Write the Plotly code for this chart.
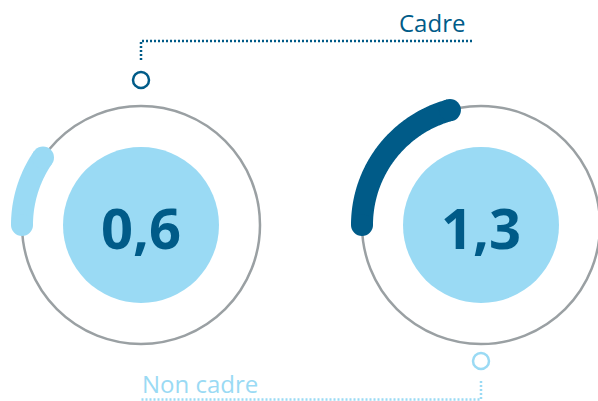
import numpy as np
import plotly.graph_objects as go

# ---- data ----
categories = ["Non cadre", "Cadre"]
values = [0.6, 1.3]
gauge_max = 6.25  # full turn of the gauge

# ---- style ----
DARK = "#005B88"
LIGHT = "#9ADAF4"
GRAY = "#9AA0A3"
arc_colors = [LIGHT, DARK]

W, H = 598, 401
centers = [(141, 225), (481, 225)]
R_RING = 119
R_DISK = 78

fig = go.Figure()
shapes = []
annotations = []

for i, (cat, val) in enumerate(zip(categories, values)):
    cx, cy = centers[i]
    # outer ring
    shapes.append(dict(type="circle", xref="x", yref="y",
                       x0=cx - R_RING, x1=cx + R_RING, y0=cy - R_RING, y1=cy + R_RING,
                       line=dict(color=GRAY, width=2.5), fillcolor="rgba(0,0,0,0)", layer="below"))
    # inner disk
    shapes.append(dict(type="circle", xref="x", yref="y",
                       x0=cx - R_DISK, x1=cx + R_DISK, y0=cy - R_DISK, y1=cy + R_DISK,
                       line=dict(width=0), fillcolor=LIGHT, layer="below"))
    # value arc, starting at 9 o'clock, going clockwise
    span = np.deg2rad(val / gauge_max * 360.0)
    t = np.linspace(np.pi, np.pi - span, 120)
    ax = cx + R_RING * np.cos(t)
    ay = cy - R_RING * np.sin(t)
    fig.add_trace(go.Scatter(x=ax, y=ay, mode="lines",
                             line=dict(color=arc_colors[i], width=22, simplify=False),
                             hoverinfo="skip", showlegend=False))
    fig.add_trace(go.Scatter(x=[ax[0], ax[-1]], y=[ay[0], ay[-1]], mode="markers",
                             marker=dict(color=arc_colors[i], size=22, line=dict(width=0)),
                             hoverinfo="skip", showlegend=False))
    # value text
    annotations.append(dict(x=cx, y=cy + 2, xref="x", yref="y", showarrow=False,
                            text=f"{val:.1f}".replace(".", ","),
                            font=dict(family="Open Sans", size=56, color=DARK, weight="bold")))

# ---- leader for "Cadre" (above, left gauge side) ----
fig.add_trace(go.Scatter(x=[141, 141, 473], y=[60, 41, 41], mode="lines",
                         line=dict(color=DARK, width=2.5, dash="2px,2px"),
                         hoverinfo="skip", showlegend=False))
fig.add_trace(go.Scatter(x=[141], y=[80], mode="markers",
                         marker=dict(symbol="circle-open", size=16, color=DARK, line=dict(width=2.5, color=DARK)),
                         hoverinfo="skip", showlegend=False))
annotations.append(dict(x=467, y=22, xref="x", yref="y", showarrow=False, xanchor="right",
                        text=categories[1], font=dict(family="Open Sans", size=24, color=DARK)))

# ---- leader for "Non cadre" (below, right gauge side) ----
fig.add_trace(go.Scatter(x=[481, 481, 140], y=[381, 399.5, 399.5], mode="lines",
                         line=dict(color=LIGHT, width=2.5, dash="2px,2px"),
                         hoverinfo="skip", showlegend=False))
fig.add_trace(go.Scatter(x=[481], y=[361], mode="markers",
                         marker=dict(symbol="circle-open", size=16, color=LIGHT, line=dict(width=2.5, color=LIGHT)),
                         hoverinfo="skip", showlegend=False))
annotations.append(dict(x=140, y=383, xref="x", yref="y", showarrow=False, xanchor="left",
                        text=categories[0], font=dict(family="Open Sans", size=24, color=LIGHT)))

fig.update_layout(
    width=W, height=H, margin=dict(l=0, r=0, t=0, b=0),
    paper_bgcolor="white", plot_bgcolor="white",
    xaxis=dict(range=[0, W], visible=False, fixedrange=True),
    yaxis=dict(range=[H, 0], visible=False, fixedrange=True),
    shapes=shapes, annotations=annotations,
)

fig.write_html("out.html", config={"displayModeBar": False},
               post_script="document.body.style.margin='0px';document.body.style.overflow='hidden';")
